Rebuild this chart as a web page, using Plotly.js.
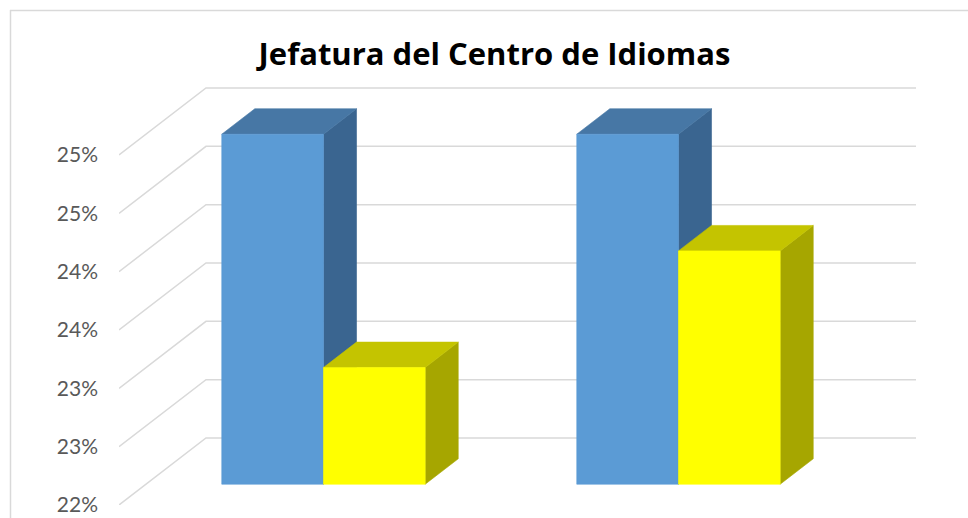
<!DOCTYPE html>
<html>
<head>
<meta charset="utf-8">
<script src="https://cdn.plot.ly/plotly-3.0.1.min.js"></script>
<style>html,body{margin:0;padding:0;background:#fff;}#chart{width:968px;height:518px;}</style>
</head>
<body>
<div id="chart"></div>
<script>
// ---- data ----
const categories = ['1', '2'];
const seriesNames = ['Serie 1', 'Serie 2'];
const serie1 = [25, 25];
const serie2 = [23, 24];
const tickVals = [22, 22.5, 23, 23.5, 24, 24.5, 25];
const tickText = ['22%', '23%', '23%', '24%', '24%', '25%', '25%'];
const titleText = 'Jefatura del Centro de Idiomas';

// ---- styling / pseudo-3D geometry ----
const W = 968, H = 518;
const mL = 119, mR = 51, mT = 80, mB = 13;
const pxPerCat = 355;          // category width in px
const pxPerUnit = 116.67;      // px per 1 % on the value axis
const depthX = 87 / pxPerCat;  // depth offset, category units
const depthY = 67 / pxPerUnit; // depth offset, value units
const base = tickVals[0];
const barW = 0.2865;
const t0 = 0.31, t1 = 0.69;
const colors = [
  {front: '#5B9BD5', top: '#4777A5', side: '#3A6590'},
  {front: '#FFFF00', top: '#C4C400', side: '#A6A600'}
];
const gridColor = '#D9D9D9';

const plotW = W - mL - mR, plotH = H - mT - mB;
const xRange = [0, plotW / pxPerCat];
const yRange = [base, base + plotH / pxPerUnit];

const traces = [];
// gridlines: left wall + back wall
const gx = [], gy = [];
tickVals.forEach(v => {
  gx.push(0, depthX, categories.length + depthX, null);
  gy.push(v, v + depthY, v + depthY, null);
});
traces.push({x: gx, y: gy, type: 'scatter', mode: 'lines',
  line: {color: gridColor, width: 1.5}, hoverinfo: 'skip', showlegend: false});

function poly(xs, ys, color) {
  traces.push({x: xs.concat([xs[0]]), y: ys.concat([ys[0]]), type: 'scatter', mode: 'lines',
    fill: 'toself', fillcolor: color, line: {color: color, width: 0.6},
    hoverinfo: 'skip', showlegend: false});
}

const allSeries = [serie1, serie2];
categories.forEach((c, i) => {
  allSeries.forEach((vals, s) => {
    const v = vals[i];
    const xl = i + 0.5 - barW + s * barW;
    const xr = xl + barW;
    const ax = t0 * depthX, ay = t0 * depthY, bx = t1 * depthX, by = t1 * depthY;
    const col = colors[s];
    // side face
    poly([xr + ax, xr + bx, xr + bx, xr + ax], [base + ay, base + by, v + by, v + ay], col.side);
    // top face
    poly([xl + ax, xr + ax, xr + bx, xl + bx], [v + ay, v + ay, v + by, v + by], col.top);
    // front face
    poly([xl + ax, xr + ax, xr + ax, xl + ax], [base + ay, base + ay, v + ay, v + ay], col.front);
  });
});

const layout = {
  width: W, height: H,
  margin: {l: mL, r: mR, t: mT, b: mB, pad: 0},
  paper_bgcolor: '#ffffff', plot_bgcolor: 'rgba(0,0,0,0)',
  showlegend: false,
  title: {text: '<b>' + titleText + '</b>', x: 494.5 / W, xref: 'container', xanchor: 'center',
    y: 1 - 54 / H, yref: 'container', yanchor: 'middle',
    font: {family: '"Open Sans", Carlito, Calibri, sans-serif', size: 31, color: '#000000'}},
  xaxis: {range: xRange, showgrid: false, zeroline: false, showline: false,
    showticklabels: false, ticks: '', fixedrange: true},
  yaxis: {range: yRange, tickvals: tickVals, ticktext: tickText, showgrid: false,
    zeroline: false, showline: false, ticks: '', ticklabelstandoff: 20,
    tickfont: {family: 'Lato, Carlito, Calibri, sans-serif', size: 21, color: '#595959'},
    fixedrange: true},
  shapes: [
    {type: 'line', xref: 'paper', yref: 'paper',
      x0: (10.5 - mL) / plotW, x1: (10.5 - mL) / plotW,
      y0: (H - 10 - mB) / plotH, y1: (-5 - mB) / plotH,
      line: {color: gridColor, width: 1.5}},
    {type: 'line', xref: 'paper', yref: 'paper',
      x0: (10 - mL) / plotW, x1: (W + 5 - mL) / plotW,
      y0: (H - 10.5 - mB) / plotH, y1: (H - 10.5 - mB) / plotH,
      line: {color: gridColor, width: 1.5}}
  ]
};

Plotly.newPlot('chart', traces, layout, {displayModeBar: false, staticPlot: true});
</script>
</body>
</html>
